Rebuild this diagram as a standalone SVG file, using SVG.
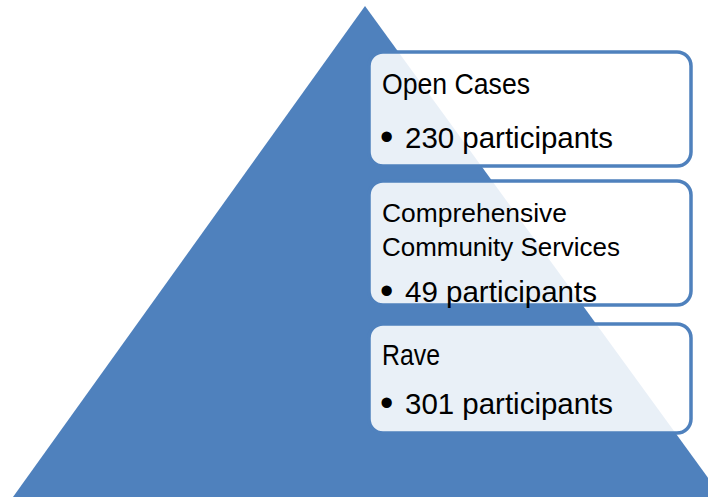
<svg xmlns="http://www.w3.org/2000/svg" width="708" height="497" viewBox="0 0 708 497">
  <style>
    .tri { fill: #4F81BD; }
    .box { fill: #FFFFFF; fill-opacity: 0.88; stroke: #4F81BD; stroke-width: 3.5; }
    .t { font-family: "Liberation Sans", Arial, sans-serif; fill: #000000; }
    .big { font-size: 29.5px; }
    .mid { font-size: 26px; }
    .dot { font-size: 38px; }
  </style>
  <rect width="708" height="497" fill="#FFFFFF"/>
  <g id="pyramid">
    <polygon class="tri" points="365,6 13,497 722,497"/>
  </g>
  <g id="open-cases">
    <rect class="box" x="369" y="52" width="322" height="114" rx="14"/>
    <text class="t big" x="382" y="94" textLength="148" lengthAdjust="spacingAndGlyphs">Open Cases</text>
    <text class="t dot" x="380" y="150">•</text>
    <text class="t big" x="405" y="148" textLength="208" lengthAdjust="spacingAndGlyphs">230 participants</text>
  </g>
  <g id="community-services">
    <rect class="box" x="369" y="181" width="322" height="124" rx="14"/>
    <text class="t mid" x="382" y="222" textLength="185" lengthAdjust="spacingAndGlyphs">Comprehensive</text>
    <text class="t mid" x="382" y="256" textLength="238" lengthAdjust="spacingAndGlyphs">Community Services</text>
    <text class="t dot" x="380" y="304">•</text>
    <text class="t big" x="405" y="302" textLength="192" lengthAdjust="spacingAndGlyphs">49 participants</text>
  </g>
  <g id="rave">
    <rect class="box" x="369" y="324" width="322" height="109" rx="14"/>
    <text class="t big" x="382" y="365" textLength="58" lengthAdjust="spacingAndGlyphs">Rave</text>
    <text class="t dot" x="380" y="416">•</text>
    <text class="t big" x="405" y="414" textLength="208" lengthAdjust="spacingAndGlyphs">301 participants</text>
  </g>
  <g id="connectors"/>
</svg>
